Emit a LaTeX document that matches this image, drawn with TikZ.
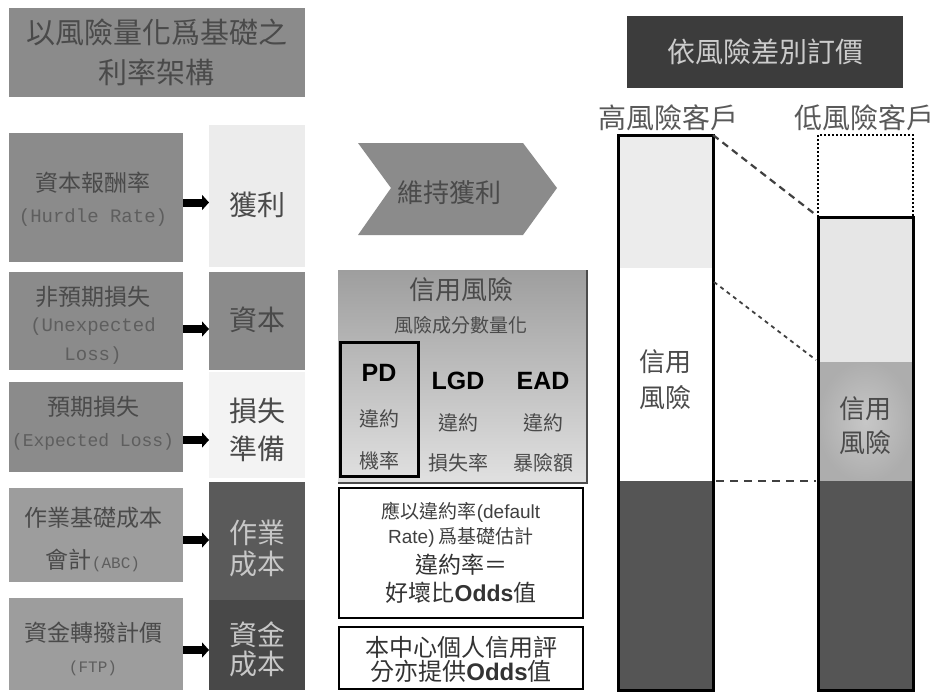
\documentclass[tikz,border=0pt]{standalone}
\usepackage{fontspec}
\setmainfont{Noto Sans CJK TC}
\newfontfamily\lsans{Liberation Sans}
\newfontfamily\lmono{Liberation Mono}
\usetikzlibrary{arrows.meta}
\definecolor{gA}{HTML}{8B8B8B}
\definecolor{gB}{HTML}{9D9D9D}
\definecolor{tD}{HTML}{4A4A4A}
\definecolor{tE}{HTML}{5E5E5E}
\definecolor{rA}{HTML}{ECECEC}
\definecolor{rC}{HTML}{F3F3F3}
\definecolor{rD}{HTML}{5A5A5A}
\definecolor{rE}{HTML}{484848}
\definecolor{dk}{HTML}{3C3C3C}
\definecolor{barD}{HTML}{555555}
\definecolor{lowL}{HTML}{E6E6E6}
\tikzset{
  blk/.style={inner sep=0pt, outer sep=0pt, anchor=north west, align=center},
  lbox/.style={blk, fill=gA, text=tD, minimum width=174pt},
  rbox/.style={blk, minimum width=96pt},
  bigarrow/.style={line width=8pt, -{Triangle[length=7pt,width=15pt]}},
  bar/.style={line width=3pt, draw=black},
  txt/.style={inner sep=0pt, align=center},
  cjkL/.style={txt, text=tD, font=\fontsize{23}{30}\selectfont},
  monoL/.style={txt, text=tE, font=\lmono\fontsize{19}{30}\selectfont},
}
\begin{document}
\begin{tikzpicture}[x=1pt,y=-1pt]
\useasboundingbox (0,0) rectangle (945,693);
\fill[white] (0,0) rectangle (945,693);
% title
\node[blk, fill=gA, text=tD, minimum width=296pt, minimum height=89pt,
  font=\fontsize{29}{40}\selectfont] (title) at (9,8) {以風險量化爲基礎之\\利率架構};
% left boxes
\node[lbox, minimum height=129pt] (l1) at (9,133) {};
\node[cjkL] (l1a) at (93,183) {資本報酬率};
\node[monoL] (l1b) at (93,218) {(Hurdle Rate)};
\node[lbox, minimum height=98pt] (l2) at (9,272) {};
\node[cjkL] (l2a) at (93,297) {非預期損失};
\node[monoL] (l2b) at (93,327) {(Unexpected};
\node[monoL] (l2c) at (93,356) {Loss)};
\node[lbox, minimum height=90pt] (l3) at (9,382) {};
\node[cjkL] (l3a) at (93,407) {預期損失};
\node[monoL, font=\lmono\fontsize{18}{30}\selectfont] (l3b) at (93,442) {(Expected Loss)};
\node[lbox, fill=gB, minimum height=94pt] (l4) at (9,488) {};
\node[cjkL] (l4a) at (93,518) {作業基礎成本};
\node[cjkL] (l4b) at (93,560) {會計{\lmono\fontsize{16}{20}\selectfont\color{tE}(ABC)}};
\node[lbox, fill=gB, minimum height=92pt] (l5) at (9,598) {};
\node[cjkL] (l5a) at (93,633) {資金轉撥計價};
\node[monoL, font=\lmono\fontsize{16}{20}\selectfont] (l5b) at (93,668) {(FTP)};
% right column
\node[rbox, fill=rA, minimum height=142pt] (r1) at (209,125) {};
\node[txt, text=tD, font=\fontsize{28}{34}\selectfont] (r1t) at (257,205) {獲利};
\node[rbox, fill=gA, minimum height=98pt] (r2) at (209,272) {};
\node[txt, text=tD, font=\fontsize{28}{34}\selectfont] (r2t) at (257,320) {資本};
\node[rbox, fill=rC, minimum height=106pt] (r3) at (209,372) {};
\node[txt, text=tD, font=\fontsize{28}{38}\selectfont] (r3t) at (257,430) {損失\\準備};
\node[rbox, fill=rD, minimum height=118pt] (r4) at (209,482) {};
\node[txt, text=black!22, font=\fontsize{28}{31}\selectfont] (r4t) at (257,548) {作業\\成本};
\node[rbox, fill=rE, minimum height=90pt] (r5) at (209,600) {};
\node[txt, text=black!22, font=\fontsize{28}{29}\selectfont] (r5t) at (257,649) {資金\\成本};
% arrows
\draw[bigarrow] ([yshift=-5pt]l1.east) -- ([yshift=-5pt]l1.east -| r1.west);
\draw[bigarrow] ([yshift=-8pt]l2.east) -- ([yshift=-8pt]l2.east -| r2.west);
\draw[bigarrow] ([yshift=-13pt]l3.east) -- ([yshift=-13pt]l3.east -| r3.west);
\draw[bigarrow] ([yshift=-5pt]l4.east) -- ([yshift=-5pt]l4.east -| r4.west);
\draw[bigarrow] ([yshift=-6pt]l5.east) -- ([yshift=-6pt]l5.east -| r5.west);
% chevron
\fill[gA] (358,143) -- (523,143) -- (557,188) -- (523,235) -- (358,235) -- (391,188) -- cycle;
\node[txt, text=tD, font=\fontsize{26}{30}\selectfont] (chev) at (449,193) {維持獲利};
% credit risk box
\shade[top color=black!38, bottom color=black!12] (338,270) rectangle (587,482);
\draw[line width=2pt, black!70] (587,270) -- (587,483) -- (338,483);
\node[txt, text=tD, font=\fontsize{26}{30}\selectfont] (cr) at (461,290) {信用風險};
\node[txt, text=tD, font=\fontsize{19}{24}\selectfont] (crq) at (461,325) {風險成分數量化};
\node[blk, draw=black, line width=3pt, minimum width=78pt, minimum height=134pt] (pd) at (340,342) {};
\node[txt, font=\lsans\bfseries\fontsize{25}{30}\selectfont] (pdt) at (379,373) {PD};
\node[txt, text=tD, font=\fontsize{20}{42}\selectfont] (pdc) at (379,440) {違約\\機率};
\node[txt, font=\lsans\bfseries\fontsize{25}{30}\selectfont] (lgd) at (458,381) {LGD};
\node[txt, text=tD, font=\fontsize{20}{40}\selectfont] (lgdc) at (458,443) {違約\\損失率};
\node[txt, font=\lsans\bfseries\fontsize{25}{30}\selectfont] (ead) at (543,381) {EAD};
\node[txt, text=tD, font=\fontsize{20}{40}\selectfont] (eadc) at (543,443) {違約\\暴險額};
% text boxes
\node[blk, draw=black, line width=2.5pt, fill=white, minimum width=244pt, minimum height=130pt] (tb1) at (339,488) {};
\node[txt, text=black!75, font=\fontsize{19}{24}\selectfont] (tb1a) at (461,512) {應以違約率{\lsans(default}};
\node[txt, text=black!75, font=\fontsize{19}{24}\selectfont] (tb1b) at (461,537) {{\lsans Rate)} 爲基礎估計};
\node[txt, text=black!80, font=\fontsize{23}{28}\selectfont] (tb1c) at (461,565) {違約率＝};
\node[txt, text=black!80, font=\fontsize{23}{28}\selectfont] (tb1d) at (461,593) {好壞比{\lsans\bfseries Odds}值};
\node[blk, draw=black, line width=2.5pt, fill=white, minimum width=244pt, minimum height=62pt] (tb2) at (339,627) {};
\node[txt, text=black!80, font=\fontsize{24}{24}\selectfont] (tb2a) at (461,647) {本中心個人信用評};
\node[txt, text=black!80, font=\fontsize{24}{24}\selectfont] (tb2b) at (461,671) {分亦提供{\lsans\bfseries Odds}值};
% right header
\node[blk, fill=dk, text=black!20, minimum width=276pt, minimum height=72pt,
  font=\fontsize{28}{34}\selectfont] (hdr) at (627,16) {依風險差別訂價};
\node[txt, text=black!65, font=\fontsize{28}{32}\selectfont] (hi) at (668,118) {高風險客戶};
\node[txt, text=black!65, font=\fontsize{28}{32}\selectfont, anchor=west] (lo) at (794,118) {低風險客戶};
% high risk bar
\fill[rA] (618,135) rectangle (713,268);
\fill[white] (618,268) rectangle (713,481);
\fill[barD] (618,481) rectangle (713,690);
\draw[bar] (618,135) rectangle (713,690);
\node[txt, text=tD, font=\fontsize{26}{36}\selectfont] (hit) at (665,380) {信用\\風險};
% low risk bar
\draw[line width=2pt, dotted] (818,217) -- (818,135) -- (913,135) -- (913,217);
\fill[lowL] (818,217) rectangle (913,362);
\shade[inner color=black!22, outer color=black!32] (818,362) rectangle (913,481);
\fill[barD] (818,481) rectangle (913,690);
\draw[bar] (818,217) rectangle (913,690);
\node[txt, text=tD, font=\fontsize{26}{34}\selectfont] (lot) at (865,426) {信用\\風險};
% connecting dashed lines
\coordinate (h1) at (713,135);
\coordinate (o1) at (816,215);
\coordinate (h2) at (714,282);
\coordinate (o2) at (816,360);
\coordinate (h3) at (716,481);
\coordinate (o3) at (816,481);
\draw[line width=2.2pt, black!75, dash pattern=on 7pt off 5pt] (h1) -- (o1);
\draw[line width=1.8pt, black!75, dash pattern=on 4pt off 4pt] (h2) -- (o2);
\draw[line width=2.2pt, black!75, dash pattern=on 8pt off 6pt] (h3) -- (o3);
\end{tikzpicture}
\end{document}
